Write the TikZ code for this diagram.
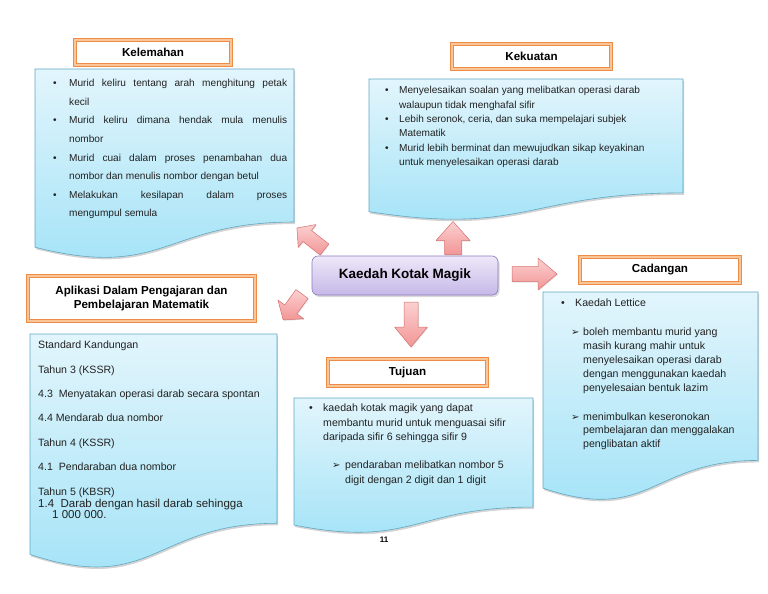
\documentclass[tikz,border=0pt]{standalone}
\usepackage{fontspec}
\setmainfont{Liberation Sans}
\newfontfamily\dingfont{DejaVu Sans}
\usepackage{tikz}
\usetikzlibrary{positioning,calc,shadows}
\usepackage{xcolor}

\definecolor{docTop}{RGB}{226,245,252}
\definecolor{docBottom}{RGB}{160,226,247}
\definecolor{docLine}{RGB}{96,168,196}
\definecolor{titleOrange}{RGB}{236,140,70}
\definecolor{titleLight}{RGB}{250,198,152}
\definecolor{kaedahTop}{RGB}{238,232,249}
\definecolor{kaedahBottom}{RGB}{198,184,232}
\definecolor{kaedahLine}{RGB}{140,122,190}
\definecolor{arrowLight}{RGB}{252,208,208}
\definecolor{arrowDark}{RGB}{242,150,150}
\definecolor{arrowLine}{RGB}{212,112,112}
\definecolor{bodyText}{RGB}{34,34,34}

\newcommand{\bul}[1][14pt]{\makebox[#1][l]{\textbullet}}
\newcommand{\arw}[1][12pt]{\makebox[#1][l]{\dingfont\fontsize{10}{10}\selectfont ➢}}
% wavy document outline behind a named frame node
\newcommand{\docshape}[1]{%
  \path[docbody] (#1.north west) -- (#1.north east)
    -- ($(#1.north east)!0.802!(#1.south east)$)
    .. controls ($(#1.north)!0.802!(#1.south)$) and ($(#1.north)!1.107!(#1.south)$)
    .. ($(#1.north west)!0.934!(#1.south west)$) -- cycle;}
% fat arrow: tail, angle, length, half shaft, half head, head length
\newcommand{\fatarrow}[6]{%
  \path[arrowbody,shift={(#1)},rotate=#2] (0,#4) -- ({#3-#6},#4) -- ({#3-#6},#5) -- (#3,0)
    -- ({#3-#6},-#5) -- ({#3-#6},-#4) -- (0,-#4) -- cycle;}

\begin{document}
\begin{tikzpicture}[x=1pt,y=-1pt,
    docframe/.style={anchor=north west,inner sep=0pt,outer sep=0pt},
    docbody/.style={draw=docLine,line width=0.6pt,top color=docTop,bottom color=docBottom,
      drop shadow={shadow xshift=1pt,shadow yshift=-2pt,opacity=0.35}},
    titlebox/.style={draw=titleOrange,double=titleLight,double distance=2.2pt,line width=0.7pt,
      fill=white,font=\fontsize{11.6}{14}\selectfont\bfseries,text=black,align=center,
      drop shadow={shadow xshift=1.5pt,shadow yshift=-1.5pt,opacity=0.3}},
    bodytext/.style={anchor=north west,inner sep=0pt,align=left,text=bodyText},
    arrowbody/.style={draw=arrowLine,line width=0.5pt,line join=round,
      top color=arrowLight,bottom color=arrowDark,
      drop shadow={shadow xshift=0.8pt,shadow yshift=-1pt,opacity=0.2}},
  ]
  \useasboundingbox (0,0) rectangle (768,594);

  % document bodies
  \node[docframe,minimum width=259pt,minimum height=190.8pt] (kelDoc) at (35,69) {};
  \node[docframe,minimum width=314pt,minimum height=142pt] (kekDoc) at (369,79) {};
  \node[docframe,minimum width=247pt,minimum height=236pt] (aplDoc) at (30,334) {};
  \node[docframe,minimum width=239pt,minimum height=136pt] (tujDoc) at (294,398) {};
  \node[docframe,minimum width=215pt,minimum height=210pt] (cadDoc) at (543,292) {};
  \docshape{kelDoc}
  \docshape{kekDoc}
  \docshape{aplDoc}
  \docshape{tujDoc}
  \docshape{cadDoc}

  % titles
  \node[titlebox,minimum width=156pt,minimum height=25pt] (kelTitle) at (153,52.5) {Kelemahan};
  \node[titlebox,minimum width=159pt,minimum height=25pt] (kekTitle) at (531.5,56.5) {Kekuatan};
  \node[titlebox,minimum width=227pt,minimum height=45pt] (aplTitle) at (141.5,298.5)
    {Aplikasi Dalam Pengajaran dan\\Pembelajaran Matematik};
  \node[titlebox,minimum width=159pt,minimum height=27pt] (tujTitle) at (407.5,372.5) {Tujuan};
  \node[titlebox,minimum width=160pt,minimum height=26pt] (cadTitle) at (660,270) {Cadangan};

  % centre
  \node[draw=kaedahLine,line width=0.6pt,rounded corners=6pt,top color=kaedahTop,
    bottom color=kaedahBottom,minimum width=186pt,minimum height=39pt,
    font=\fontsize{13.5}{16}\selectfont\bfseries,
    drop shadow={shadow xshift=1.5pt,shadow yshift=-2pt,opacity=0.3}] (kaedah) at (405,275.5)
    {Kaedah Kotak Magik};

  % block arrows out of the centre
  \coordinate (upTail) at (453,254.5);
  \coordinate (rightTail) at (512,274);
  \coordinate (downTail) at (411,302);
  \coordinate (nwTail) at (324.5,249.5);
  \coordinate (swTail) at (302,294);
  \fatarrow{upTail}{90}{33}{8.5}{17}{19}
  \fatarrow{rightTail}{0}{45}{7.5}{16}{19}
  \fatarrow{downTail}{-90}{45}{7}{16.5}{20}
  \fatarrow{nwTail}{142}{35}{7}{14.5}{13}
  \fatarrow{swTail}{234}{32}{7.5}{16}{13}

  % texts
  \node[bodytext,font=\fontsize{10.1}{18.6}\selectfont] (kelText) at (53,79.2) {%
    \bul[16pt]\makebox[218pt][s]{Murid keliru tentang arah menghitung petak}\\
    \hspace*{16pt}kecil\\
    \bul[16pt]\makebox[218pt][s]{Murid keliru dimana hendak mula menulis}\\
    \hspace*{16pt}nombor\\
    \bul[16pt]\makebox[218pt][s]{Murid cuai dalam proses penambahan dua}\\
    \hspace*{16pt}nombor dan menulis nombor dengan betul\\
    \bul[16pt]\makebox[218pt][s]{Melakukan kesilapan dalam proses}\\
    \hspace*{16pt}mengumpul semula};

  \node[bodytext,font=\fontsize{10.1}{14.4}\selectfont] (kekText) at (385,86.1) {%
    \bul Menyelesaikan soalan yang melibatkan operasi darab\\
    \hspace*{14pt}walaupun tidak menghafal sifir\\
    \bul Lebih seronok, ceria, dan suka mempelajari subjek\\
    \hspace*{14pt}Matematik\\
    \bul Murid lebih berminat dan mewujudkan sikap keyakinan\\
    \hspace*{14pt}untuk menyelesaikan operasi darab};

  \node[bodytext,font=\fontsize{10.6}{24.4}\selectfont] (aplText) at (38,340.9) {%
    Standard Kandungan\\
    Tahun 3 (KSSR)\\
    4.3\ \ Menyatakan operasi darab secara spontan\\
    4.4 Mendarab dua nombor\\
    Tahun 4 (KSSR)\\
    4.1\ \ Pendaraban dua nombor\\
    Tahun 5 (KBSR)};
  \node[bodytext,font=\fontsize{11.5}{10.5}\selectfont] (aplTail) at (38,499) {%
    1.4\ \ Darab dengan hasil darab sehingga\\
    \hspace*{14pt}1 000 000.};

  \node[bodytext,font=\fontsize{10.6}{14.5}\selectfont] (tujText) at (309,403.8) {%
    \bul kaedah kotak magik yang dapat\\
    \hspace*{14pt}membantu murid untuk menguasai sifir\\
    \hspace*{14pt}daripada sifir 6 sehingga sifir 9\\[13.5pt]
    \hspace*{23pt}\arw[13pt]pendaraban melibatkan nombor 5\\
    \hspace*{36pt}digit dengan 2 digit dan 1 digit};

  \node[bodytext,font=\fontsize{10.6}{13.9}\selectfont] (cadText) at (561,298.8) {%
    \bul Kaedah Lettice\\[15pt]
    \hspace*{10pt}\arw boleh membantu murid yang\\
    \hspace*{22pt}masih kurang mahir untuk\\
    \hspace*{22pt}menyelesaikan operasi darab\\
    \hspace*{22pt}dengan menggunakan kaedah\\
    \hspace*{22pt}penyelesaian bentuk lazim\\[15pt]
    \hspace*{10pt}\arw menimbulkan keseronokan\\
    \hspace*{22pt}pembelajaran dan menggalakan\\
    \hspace*{22pt}penglibatan aktif};

  \node[font=\fontsize{8}{9}\selectfont\bfseries,inner sep=0pt] (pageNum) at (384,539.5) {11};
\end{tikzpicture}
\end{document}
